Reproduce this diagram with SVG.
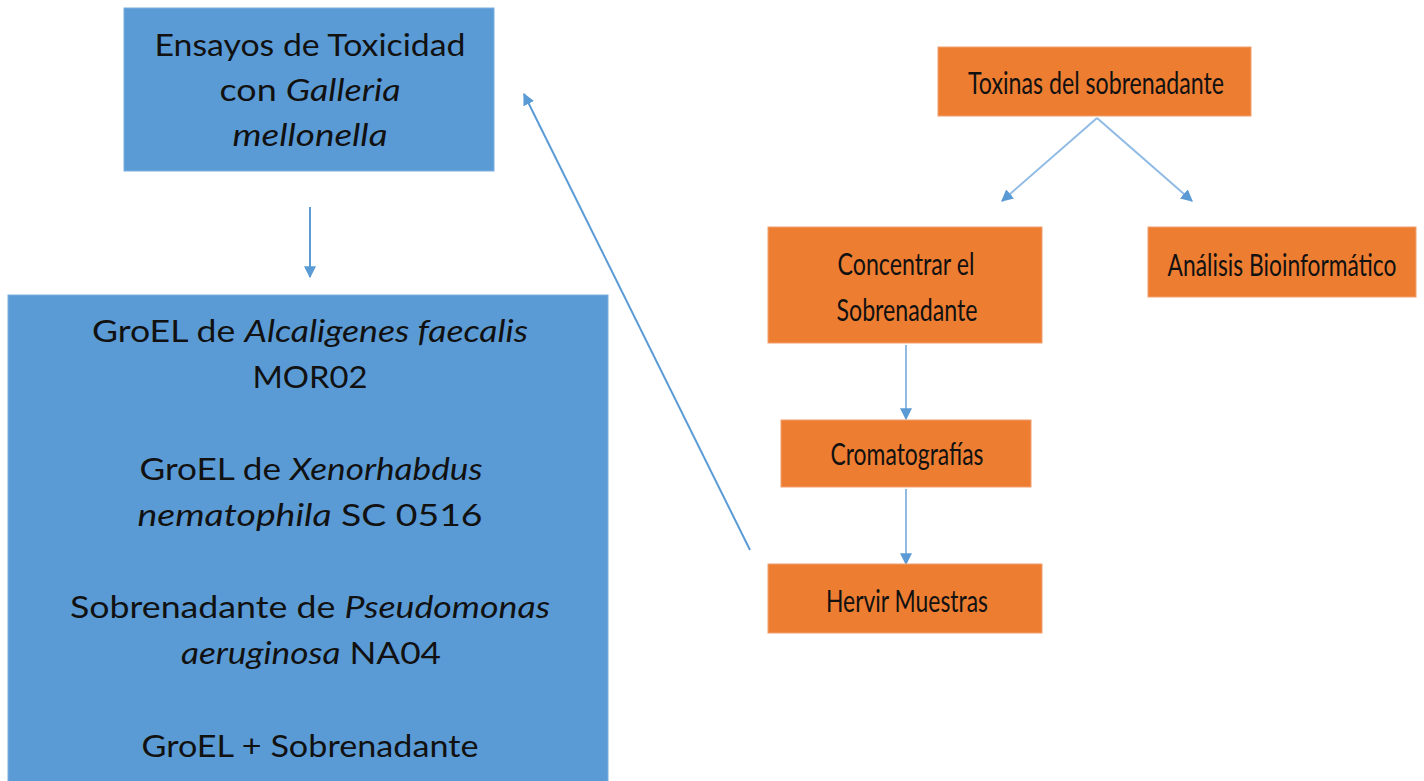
<svg xmlns="http://www.w3.org/2000/svg" width="1424" height="781" viewBox="0 0 1424 781">
<defs>
<style>
.blue{fill:#5B9BD5;stroke:#7aaee0;stroke-width:1}
.orange{fill:#ED7D31;stroke:#f0a070;stroke-width:1}
.bt{font-family:Lato,"Liberation Sans",sans-serif;font-size:31px;fill:#111;text-anchor:middle}
.ot{font-family:Lato,"Liberation Sans",sans-serif;font-size:30px;fill:#111;text-anchor:middle}
.it{font-style:italic}
.conn{stroke:#5B9BD5;stroke-width:2;fill:none}
.conn2{stroke:#8fbbe5;stroke-width:2;fill:none}
</style>
<marker id="ah" viewBox="0 0 10 10" refX="9" refY="5" markerWidth="10" markerHeight="10" markerUnits="userSpaceOnUse" orient="auto">
<path d="M0,0 L10,5 L0,10 z" fill="#5B9BD5"/>
</marker>
<marker id="ahL" viewBox="0 0 10 10" refX="9" refY="5" markerWidth="12" markerHeight="12" markerUnits="userSpaceOnUse" orient="auto">
<path d="M0,0 L10,5 L0,10 z" fill="#5B9BD5"/>
</marker>
</defs>
<rect width="1424" height="781" fill="#fff"/>

<g id="connectors">
<line class="conn" x1="310" y1="207" x2="310" y2="277" marker-end="url(#ahL)"/>
<line class="conn" x1="750" y1="550" x2="524" y2="94" marker-end="url(#ahL)"/>
<line class="conn2" x1="1097" y1="118" x2="1002" y2="201" marker-end="url(#ahL)"/>
<line class="conn2" x1="1097" y1="118" x2="1192" y2="201" marker-end="url(#ahL)"/>
<line class="conn2" x1="906" y1="345" x2="906" y2="419" marker-end="url(#ahL)"/>
<line class="conn2" x1="906" y1="489" x2="906" y2="564" marker-end="url(#ahL)"/>
</g>

<g id="ensayos">
<rect class="blue" x="124" y="8" width="370" height="163"/>
<text class="bt" x="310" y="56" textLength="311" lengthAdjust="spacingAndGlyphs">Ensayos de Toxicidad</text>
<text class="bt" x="310" y="101" textLength="181" lengthAdjust="spacingAndGlyphs">con <tspan class="it">Galleria</tspan></text>
<text class="bt it" x="310" y="146" textLength="155" lengthAdjust="spacingAndGlyphs">mellonella</text>
</g>

<g id="muestras">
<rect class="blue" x="8" y="295" width="600" height="495"/>
<text class="bt" x="310" y="342" textLength="436" lengthAdjust="spacingAndGlyphs">GroEL de <tspan class="it">Alcaligenes faecalis</tspan></text>
<text class="bt" x="310" y="388" textLength="115" lengthAdjust="spacingAndGlyphs">MOR02</text>
<text class="bt" x="311" y="480" textLength="343" lengthAdjust="spacingAndGlyphs">GroEL de <tspan class="it">Xenorhabdus</tspan></text>
<text class="bt" x="310" y="526" textLength="345" lengthAdjust="spacingAndGlyphs"><tspan class="it">nematophila</tspan> SC 0516</text>
<text class="bt" x="310" y="618" textLength="480" lengthAdjust="spacingAndGlyphs">Sobrenadante de <tspan class="it">Pseudomonas</tspan></text>
<text class="bt" x="311" y="664" textLength="260" lengthAdjust="spacingAndGlyphs"><tspan class="it">aeruginosa</tspan> NA04</text>
<text class="bt" x="310" y="757" textLength="337" lengthAdjust="spacingAndGlyphs">GroEL + Sobrenadante</text>
</g>

<g id="toxinas">
<rect class="orange" x="938" y="47" width="313" height="69"/>
<text class="ot" x="1096" y="94" textLength="256" lengthAdjust="spacingAndGlyphs">Toxinas del sobrenadante</text>
</g>

<g id="concentrar">
<rect class="orange" x="768" y="227" width="274" height="116"/>
<text class="ot" x="906" y="275" textLength="137" lengthAdjust="spacingAndGlyphs">Concentrar el</text>
<text class="ot" x="907" y="321" textLength="141" lengthAdjust="spacingAndGlyphs">Sobrenadante</text>
</g>

<g id="analisis">
<rect class="orange" x="1148" y="227" width="268" height="70"/>
<text class="ot" transform="translate(1282,276) scale(0.8,1)" x="0" y="0" textLength="286" lengthAdjust="spacingAndGlyphs">Análisis Bioinformático</text>
</g>

<g id="cromatografias">
<rect class="orange" x="781" y="420" width="250" height="67"/>
<text class="ot" x="907" y="465" textLength="153" lengthAdjust="spacingAndGlyphs">Cromatografías</text>
</g>

<g id="hervir">
<rect class="orange" x="768" y="564" width="274" height="69"/>
<text class="ot" x="907" y="612" textLength="162" lengthAdjust="spacingAndGlyphs">Hervir Muestras</text>
</g>
</svg>
